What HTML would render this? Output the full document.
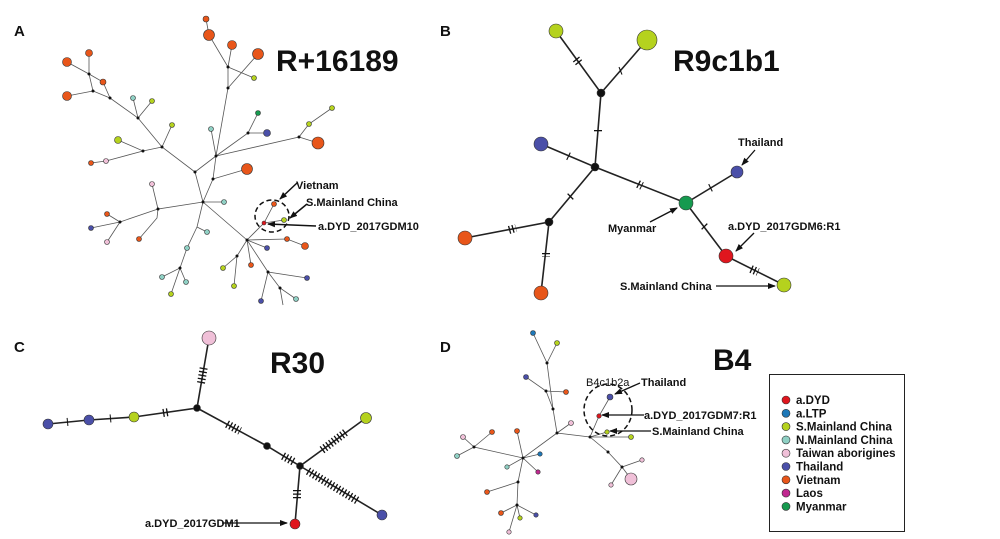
<!DOCTYPE html>
<html><head><meta charset="utf-8"><style>
html,body{margin:0;padding:0;background:#fff}
svg{display:block}
text{font-family:"Liberation Sans",sans-serif;font-weight:bold;fill:#111}
.e{stroke:#222;stroke-width:1.6;fill:none}
.t{stroke:#555;stroke-width:0.8;fill:none}
.tk{stroke:#111;stroke-width:7;stroke-dasharray:1.3 2.2;fill:none}
.n{stroke:#333;stroke-width:0.6}
.o{fill:#e8561a}.y{fill:#b5d21e}.c{fill:#8fd0c4}.p{fill:#f0c0d8}.b{fill:#4a4fa8}.r{fill:#e0161e}.g{fill:#169a4f}.l{fill:#1e78b8}.m{fill:#c02890}.k{fill:#111}
</style></head><body>
<svg width="1000" height="539" viewBox="0 0 1000 539" xmlns="http://www.w3.org/2000/svg">
<defs><marker id="ar" markerWidth="8" markerHeight="8" refX="7" refY="4" orient="auto" markerUnits="userSpaceOnUse"><path d="M0,1 L8,4 L0,7 z" fill="#111"/></marker></defs>
<text x="14" y="36" font-size="15">A</text>
<text x="440" y="36" font-size="15">B</text>
<text x="14" y="352" font-size="15">C</text>
<text x="440" y="352" font-size="15">D</text>
<text x="276" y="71" font-size="30">R+16189</text>
<text x="673" y="71" font-size="30">R9c1b1</text>
<text x="270" y="373" font-size="30">R30</text>
<text x="713" y="370" font-size="30">B4</text>

<!-- Panel A -->
<g class="t">
<path d="M203,202 L195,172 L162,147 L138,118 L110,98 L93,91 L89,74 L89,53 M89,74 L67,62 M89,74 L103,82 L110,98 M93,91 L67,96 M138,118 L133,98 M138,118 L152,101 M162,147 L172,125 M162,147 L143,151 L118,140 M143,151 L106,161 L91,163"/>
<path d="M195,172 L216,156 L228,88 L228,67 L209,35 L206,19 M228,67 L232,45 M228,67 L254,78 M228,88 L258,54 M216,156 L248,133 L258,113 M248,133 L267,133 M216,156 L211,129 M216,156 L299,137 L309,124 L332,108 M299,137 L318,143 M216,156 L213,179 L247,169 M213,179 L203,202"/>
<path d="M203,202 L224,202 M203,202 L158,209 L152,184 M158,209 L120,222 L107,214 M120,222 L91,228 M120,222 L107,242 M158,209 L157,218 L139,239 M203,202 L197,227 L207,232 M197,227 L187,248 L180,268 L162,277 M180,268 L171,294 M180,268 L186,282"/>
<path d="M203,202 L247,240 L287,239 L305,246 M247,240 L267,248 M247,240 L251,265 M247,240 L237,256 L223,268 M237,256 L234,286 M247,240 L268,272 L307,278 M268,272 L280,288 L296,299 M268,272 L261,301 M247,240 L264,223 L274,204 M264,223 L284,220 M280,288 L283,305"/>
</g>
<g fill="#111">
<circle cx="203" cy="202" r="1.5"/><circle cx="195" cy="172" r="1.5"/><circle cx="216" cy="156" r="1.5"/><circle cx="247" cy="240" r="1.5"/><circle cx="162" cy="147" r="1.5"/><circle cx="138" cy="118" r="1.5"/><circle cx="110" cy="98" r="1.5"/><circle cx="93" cy="91" r="1.5"/><circle cx="89" cy="74" r="1.5"/><circle cx="143" cy="151" r="1.5"/><circle cx="228" cy="88" r="1.5"/><circle cx="228" cy="67" r="1.5"/><circle cx="248" cy="133" r="1.5"/><circle cx="299" cy="137" r="1.5"/><circle cx="213" cy="179" r="1.5"/><circle cx="158" cy="209" r="1.5"/><circle cx="120" cy="222" r="1.5"/><circle cx="180" cy="268" r="1.5"/><circle cx="237" cy="256" r="1.5"/><circle cx="268" cy="272" r="1.5"/><circle cx="280" cy="288" r="1.5"/>
</g>
<g class="n">
<circle class="o" cx="89" cy="53" r="3.5"/><circle class="o" cx="67" cy="62" r="4.5"/><circle class="o" cx="103" cy="82" r="3"/><circle class="o" cx="67" cy="96" r="4.5"/>
<circle class="c" cx="133" cy="98" r="2.5"/><circle class="y" cx="152" cy="101" r="2.5"/><circle class="y" cx="172" cy="125" r="2.5"/><circle class="y" cx="118" cy="140" r="3.5"/>
<circle class="o" cx="91" cy="163" r="2.5"/><circle class="p" cx="106" cy="161" r="2.5"/>
<circle class="o" cx="206" cy="19" r="3"/><circle class="o" cx="209" cy="35" r="5.5"/><circle class="o" cx="232" cy="45" r="4.5"/><circle class="o" cx="258" cy="54" r="5.5"/><circle class="y" cx="254" cy="78" r="2.5"/>
<circle class="g" cx="258" cy="113" r="2.5"/><circle class="b" cx="267" cy="133" r="3.5"/><circle class="c" cx="211" cy="129" r="2.5"/>
<circle class="y" cx="332" cy="108" r="2.5"/><circle class="y" cx="309" cy="124" r="2.5"/><circle class="o" cx="318" cy="143" r="6"/><circle class="o" cx="247" cy="169" r="5.5"/>
<circle class="c" cx="224" cy="202" r="2.5"/><circle class="p" cx="152" cy="184" r="2.5"/><circle class="o" cx="107" cy="214" r="2.5"/><circle class="b" cx="91" cy="228" r="2.5"/><circle class="p" cx="107" cy="242" r="2.5"/><circle class="o" cx="139" cy="239" r="2.5"/>
<circle class="c" cx="207" cy="232" r="2.5"/><circle class="c" cx="187" cy="248" r="2.5"/><circle class="c" cx="162" cy="277" r="2.5"/><circle class="y" cx="171" cy="294" r="2.5"/><circle class="c" cx="186" cy="282" r="2.5"/>
<circle class="o" cx="287" cy="239" r="2.5"/><circle class="o" cx="305" cy="246" r="3.5"/><circle class="b" cx="267" cy="248" r="2.5"/><circle class="o" cx="251" cy="265" r="2.5"/><circle class="y" cx="223" cy="268" r="2.5"/><circle class="y" cx="234" cy="286" r="2.5"/>
<circle class="b" cx="307" cy="278" r="2.5"/><circle class="c" cx="296" cy="299" r="2.5"/><circle class="b" cx="261" cy="301" r="2.5"/>
<circle class="r" cx="264" cy="223" r="2"/><circle class="o" cx="274" cy="204" r="2.5"/><circle class="y" cx="284" cy="220" r="2.5"/>
</g>
<ellipse cx="272" cy="216" rx="17" ry="16" fill="none" stroke="#111" stroke-width="1.5" stroke-dasharray="5 3"/>
<g stroke="#111" stroke-width="1.5" marker-end="url(#ar)"><line x1="297" y1="183" x2="280" y2="199"/><line x1="307" y1="204" x2="290" y2="218"/><line x1="316" y1="226" x2="268" y2="224"/></g>
<text x="296" y="189" font-size="11">Vietnam</text><text x="306" y="206" font-size="11">S.Mainland China</text><text x="318" y="230" font-size="11">a.DYD_2017GDM10</text>

<!-- Panel B -->
<g class="e"><path d="M556,31 L601,93 L647,40 M601,93 L595,167 L541,144 M595,167 L549,222 L465,238 M549,222 L541,293 M595,167 L686,203 L737,172 M686,203 L726,256 L784,285"/></g>
<g class="tk" style="stroke-width:8">
<line x1="576" y1="59" x2="580" y2="64"/><line x1="620" y1="71" x2="621" y2="70.6"/><line x1="598" y1="130" x2="598" y2="133"/><line x1="568" y1="156" x2="569" y2="156.5"/><line x1="570" y1="197" x2="571" y2="196"/><line x1="638" y1="184" x2="642" y2="186"/><line x1="509" y1="230" x2="516" y2="228"/><line x1="546" y1="253" x2="546" y2="257"/><line x1="710" y1="188" x2="711" y2="187.5"/><line x1="704" y1="226" x2="705" y2="227"/><line x1="751" y1="269" x2="758" y2="272"/>
</g>
<g class="n" stroke-width="1">
<circle class="y" cx="556" cy="31" r="7"/><circle class="y" cx="647" cy="40" r="10"/><circle class="k" cx="601" cy="93" r="4"/><circle class="k" cx="595" cy="167" r="4"/><circle class="b" cx="541" cy="144" r="7"/><circle class="k" cx="549" cy="222" r="4"/><circle class="o" cx="465" cy="238" r="7"/><circle class="o" cx="541" cy="293" r="7"/><circle class="g" cx="686" cy="203" r="7"/><circle class="b" cx="737" cy="172" r="6"/><circle class="r" cx="726" cy="256" r="7"/><circle class="y" cx="784" cy="285" r="7"/>
</g>
<g stroke="#111" stroke-width="1.3" marker-end="url(#ar)"><line x1="755" y1="150" x2="742" y2="165"/><line x1="650" y1="222" x2="677" y2="208"/><line x1="754" y1="233" x2="736" y2="251"/><line x1="716" y1="286" x2="775" y2="286"/></g>
<text x="738" y="146" font-size="11">Thailand</text><text x="608" y="232" font-size="11">Myanmar</text><text x="728" y="230" font-size="11">a.DYD_2017GDM6:R1</text><text x="620" y="290" font-size="11">S.Mainland China</text>

<!-- Panel C -->
<g class="e"><path d="M209,338 L197,408 L134,417 L89,420 L48,424 M197,408 L267,446 L300,466 L366,418 M300,466 L382,515 M300,466 L295,524"/></g>
<g class="tk" style="stroke-width:8">
<line x1="201" y1="383" x2="204" y2="366"/><line x1="163" y1="413" x2="169" y2="412"/><line x1="110" y1="418.5" x2="111" y2="418.4"/><line x1="67" y1="422" x2="68" y2="421.9"/><line x1="227" y1="424" x2="240" y2="431"/><line x1="283" y1="456" x2="294" y2="462"/><line x1="322" y1="450" x2="346" y2="432"/><line x1="308" y1="471" x2="358" y2="501"/><line x1="297" y1="490" x2="297" y2="500"/>
</g>
<g class="n" stroke-width="1">
<circle class="p" cx="209" cy="338" r="7"/><circle class="k" cx="197" cy="408" r="3.5"/><circle class="y" cx="134" cy="417" r="5"/><circle class="b" cx="89" cy="420" r="5"/><circle class="b" cx="48" cy="424" r="5"/><circle class="k" cx="267" cy="446" r="3.5"/><circle class="k" cx="300" cy="466" r="3.5"/><circle class="y" cx="366" cy="418" r="5.5"/><circle class="b" cx="382" cy="515" r="5"/><circle class="r" cx="295" cy="524" r="5"/>
</g>
<line x1="222" y1="523" x2="287" y2="523" stroke="#111" stroke-width="1.3" marker-end="url(#ar)"/>
<text x="145" y="527" font-size="11">a.DYD_2017GDM1</text>

<!-- Panel D -->
<g class="t">
<path d="M590,437 L557,433 L553,409 L547,363 L533,333 M547,363 L557,343 M553,409 L546,391 L526,377 M546,391 L566,392 M557,433 L571,423 M557,433 L523,458 L474,447 L463,437 M474,447 L457,456 M474,447 L492,432 M523,458 L517,431 M523,458 L540,454 M523,458 L507,467 M523,458 L538,472 M523,458 L518,482 L487,492 M518,482 L517,505 L501,513 M517,505 L520,518 M517,505 L536,515 M517,505 L509,532"/>
<path d="M590,437 L599,416 L610,397 M590,437 L607,432 M590,437 L631,437 M590,437 L608,452 L622,467 L642,460 M622,467 L611,485 M622,467 L631,479"/>
</g>
<g fill="#111">
<circle cx="590" cy="437" r="1.5"/><circle cx="557" cy="433" r="1.5"/><circle cx="553" cy="409" r="1.5"/><circle cx="547" cy="363" r="1.5"/><circle cx="546" cy="391" r="1.5"/><circle cx="523" cy="458" r="1.5"/><circle cx="474" cy="447" r="1.5"/><circle cx="518" cy="482" r="1.5"/><circle cx="517" cy="505" r="1.5"/><circle cx="608" cy="452" r="1.5"/><circle cx="622" cy="467" r="1.5"/>
</g>
<g class="n">
<circle class="l" cx="533" cy="333" r="2.5"/><circle class="y" cx="557" cy="343" r="2.5"/><circle class="b" cx="526" cy="377" r="2.5"/><circle class="o" cx="566" cy="392" r="2.5"/><circle class="p" cx="571" cy="423" r="2.5"/>
<circle class="p" cx="463" cy="437" r="2.5"/><circle class="c" cx="457" cy="456" r="2.5"/><circle class="o" cx="492" cy="432" r="2.5"/><circle class="o" cx="517" cy="431" r="2.5"/><circle class="l" cx="540" cy="454" r="2.2"/><circle class="c" cx="507" cy="467" r="2.2"/><circle class="m" cx="538" cy="472" r="2.2"/>
<circle class="o" cx="487" cy="492" r="2.5"/><circle class="o" cx="501" cy="513" r="2.5"/><circle class="y" cx="520" cy="518" r="2.2"/><circle class="b" cx="536" cy="515" r="2.2"/><circle class="p" cx="509" cy="532" r="2.2"/>
<circle class="r" cx="599" cy="416" r="2.2"/><circle class="b" cx="610" cy="397" r="3"/><circle class="y" cx="607" cy="432" r="2.2"/><circle class="y" cx="631" cy="437" r="2.5"/><circle class="p" cx="642" cy="460" r="2.2"/><circle class="p" cx="611" cy="485" r="2.2"/><circle class="p" cx="631" cy="479" r="6"/>
</g>
<ellipse cx="608" cy="410" rx="24" ry="26" fill="none" stroke="#111" stroke-width="1.5" stroke-dasharray="5 3"/>
<g stroke="#111" stroke-width="1.3" marker-end="url(#ar)"><line x1="640" y1="383" x2="615" y2="394"/><line x1="644" y1="415" x2="602" y2="415"/><line x1="651" y1="431" x2="610" y2="431"/></g>
<text x="586" y="386" font-size="11" style="font-weight:normal">B4c1b2a</text><text x="641" y="386" font-size="11">Thailand</text><text x="644" y="419" font-size="11">a.DYD_2017GDM7:R1</text><text x="652" y="435" font-size="11">S.Mainland China</text>

<!-- Legend -->
<rect x="769.5" y="374.5" width="135" height="157" fill="#fff" stroke="#222" stroke-width="1"/>
<g class="n" stroke-width="0.8">
<circle class="r" cx="786" cy="400" r="4"/><circle class="l" cx="786" cy="413.3" r="4"/><circle class="y" cx="786" cy="426.6" r="4"/><circle class="c" cx="786" cy="439.9" r="4"/><circle class="p" cx="786" cy="453.2" r="4"/><circle class="b" cx="786" cy="466.5" r="4"/><circle class="o" cx="786" cy="479.8" r="4"/><circle class="m" cx="786" cy="493.1" r="4"/><circle class="g" cx="786" cy="506.4" r="4"/>
</g>
<g font-size="11.5">
<text x="796" y="404">a.DYD</text><text x="796" y="417.3">a.LTP</text><text x="796" y="430.6">S.Mainland China</text><text x="796" y="443.9">N.Mainland China</text><text x="796" y="457.2">Taiwan aborigines</text><text x="796" y="470.5">Thailand</text><text x="796" y="483.8">Vietnam</text><text x="796" y="497.1">Laos</text><text x="796" y="510.4">Myanmar</text>
</g>
</svg>
</body></html>
